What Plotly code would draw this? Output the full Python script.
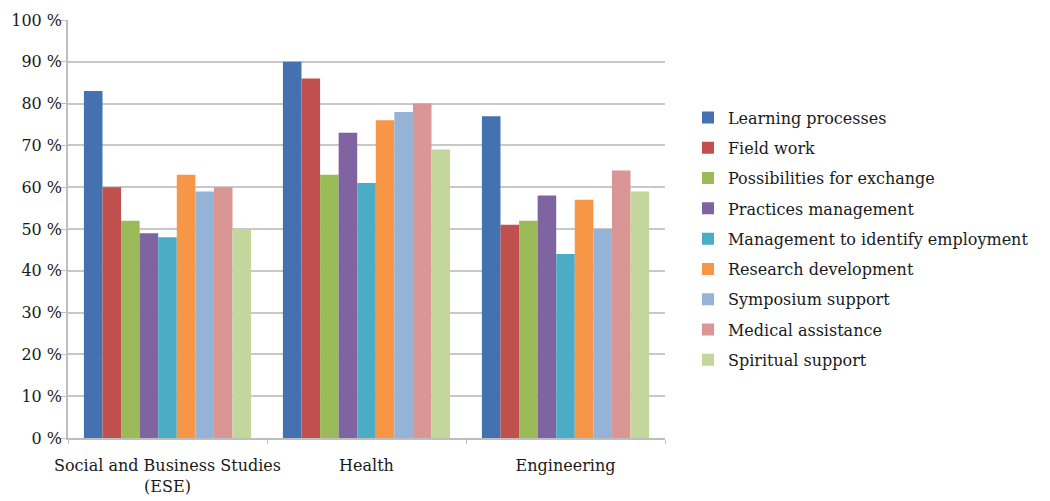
import plotly.graph_objects as go

categories = ["Social and Business Studies<br>(ESE)", "Health", "Engineering"]

series_names = [
    "Learning processes",
    "Field work",
    "Possibilities for exchange",
    "Practices management",
    "Management to identify employment",
    "Research development",
    "Symposium support",
    "Medical assistance",
    "Spiritual support",
]

learning_processes = [83, 90, 77]
field_work = [60, 86, 51]
possibilities_for_exchange = [52, 63, 52]
practices_management = [49, 73, 58]
management_to_identify_employment = [48, 61, 44]
research_development = [63, 76, 57]
symposium_support = [59, 78, 50]
medical_assistance = [60, 80, 64]
spiritual_support = [50, 69, 59]

series_values = [
    learning_processes,
    field_work,
    possibilities_for_exchange,
    practices_management,
    management_to_identify_employment,
    research_development,
    symposium_support,
    medical_assistance,
    spiritual_support,
]

colors = [
    "#4472B0", "#C0504D", "#9BBB59", "#8064A2", "#4BACC6",
    "#F79646", "#95B3D7", "#D99694", "#C3D69B",
]

y_ticks = list(range(0, 101, 10))
y_tick_labels = [f"{v} %" for v in y_ticks]

font_family = "DejaVu Serif, Liberation Serif, serif"
text_color = "#1A1A1A"

fig = go.Figure()
for name, vals, col in zip(series_names, series_values, colors):
    fig.add_trace(go.Bar(
        x=categories, y=vals, name=name,
        marker=dict(color=col, line=dict(width=0)),
        legendgroup=name,
    ))

fig.update_layout(
    width=1050, height=501,
    barmode="group", bargap=0.16, bargroupgap=0,
    plot_bgcolor="white", paper_bgcolor="white",
    margin=dict(l=68, r=385, t=20, b=63),
    font=dict(family=font_family, size=15, color=text_color),
    legend=dict(
        x=1.0385, y=0.476, xanchor="left", yanchor="middle",
        traceorder="grouped", tracegroupgap=6.5,
        font=dict(family=font_family, size=16, color=text_color),
        itemwidth=30,
    ),
    xaxis=dict(
        showline=True, linecolor="#BEBEBE", linewidth=1.5,
        ticks="outside", tickson="boundaries", ticklen=4, tickcolor="#BEBEBE",
        tickfont=dict(family=font_family, size=16, color=text_color),
        tickangle=0, ticklabelstandoff=12, automargin=False,
    ),
    yaxis=dict(
        range=[0, 100], tickmode="array", tickvals=y_ticks, ticktext=y_tick_labels,
        showline=True, linecolor="#BEBEBE", linewidth=1.5,
        ticks="outside", ticklen=5, tickcolor="#BEBEBE",
        showgrid=True, gridcolor="#C8C8C8", gridwidth=1.5,
        zeroline=False, automargin=False, ticklabelstandoff=-4,
        tickfont=dict(family=font_family, size=16, color=text_color),
    ),
)

fig.write_html("out.html")
